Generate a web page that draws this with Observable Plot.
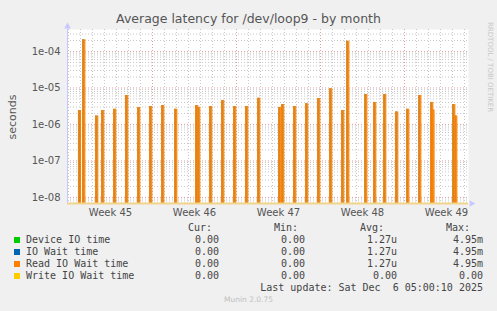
<!DOCTYPE html>
<html>
<head>
<meta charset="utf-8">
<script src="https://cdn.jsdelivr.net/npm/d3@7"></script>
<script src="https://cdn.jsdelivr.net/npm/@observablehq/plot@0.6"></script>
<style>
  html, body { margin: 0; padding: 0; background: #f0f0f0; }
  #wrap { position: relative; width: 497px; height: 311px; overflow: hidden; background: #f0f0f0; }
  #chart { position: absolute; left: 0; top: 0; }
  .t { position: absolute; white-space: pre; }
  .mono { font-family: "DejaVu Sans Mono", monospace; font-size: 10px; color: #444; line-height: 12px; }
</style>
</head>
<body>
<div id="wrap">
  <div id="chart"></div>
</div>
<script>
// ---- data ----
const spikeTimes = [
  "2025-11-03T20:00Z", "2025-11-04T04:30Z", "2025-11-05T06:30Z", "2025-11-05T18:30Z",
  "2025-11-06T18:30Z", "2025-11-07T18:30Z", "2025-11-08T18:30Z", "2025-11-09T18:30Z",
  "2025-11-10T18:30Z", "2025-11-11T20:30Z", "2025-11-13T14:30Z", "2025-11-13T18:30Z",
  "2025-11-14T18:30Z", "2025-11-15T18:30Z", "2025-11-16T18:30Z", "2025-11-17T18:30Z",
  "2025-11-18T18:30Z", "2025-11-20T12:30Z", "2025-11-20T18:30Z", "2025-11-21T18:30Z",
  "2025-11-22T18:30Z", "2025-11-23T18:30Z", "2025-11-24T18:30Z", "2025-11-25T18:30Z",
  "2025-11-26T04:30Z", "2025-11-27T16:30Z", "2025-11-28T10:30Z", "2025-11-29T06:30Z",
  "2025-11-30T06:30Z", "2025-12-01T04:30Z", "2025-12-02T04:30Z", "2025-12-03T04:30Z",
  "2025-12-03T07:00Z", "2025-12-05T00:30Z", "2025-12-05T04:30Z"
];
const readIOWait = [
  2.4e-6, 2.1e-4, 1.7e-6, 2.4e-6,
  2.6e-6, 6.2e-6, 2.9e-6, 3.1e-6,
  3.3e-6, 2.6e-6, 3.3e-6, 2.9e-6,
  3.1e-6, 4.5e-6, 3.1e-6, 3.1e-6,
  5.2e-6, 2.9e-6, 3.5e-6, 3.1e-6,
  3.7e-6, 5.1e-6, 9.5e-6, 2.4e-6,
  1.9e-4, 6.6e-6, 4.0e-6, 6.6e-6,
  2.2e-6, 2.6e-6, 6.2e-6, 4.0e-6,
  2.5e-6, 3.5e-6, 1.7e-6
];
const deviceIO = readIOWait.slice(); // identical series
const yTicks = [1e-8, 1e-7, 1e-6, 1e-5, 1e-4];
const yTickLabels = ["1e-08", "1e-07", "1e-06", "1e-05", "1e-04"];
const weekCenters = ["2025-11-06T12:00Z", "2025-11-13T12:00Z", "2025-11-20T12:00Z", "2025-11-27T12:00Z", "2025-12-04T12:00Z"];
const weekLabels = ["Week 45", "Week 46", "Week 47", "Week 48", "Week 49"];
const weekStarts = ["2025-11-10T00:00Z", "2025-11-17T00:00Z", "2025-11-24T00:00Z", "2025-12-01T00:00Z"];
const legendNames = ["Device IO time", "IO Wait time", "Read IO Wait time", "Write IO Wait time"];
const legendColors = ["#00cc00", "#0066b3", "#ff8000", "#ffcc00"];
const curVals = ["0.00", "0.00", "0.00", "0.00"];
const minVals = ["0.00", "0.00", "0.00", "0.00"];
const avgVals = ["1.27u", "1.27u", "1.27u", "0.00"];
const maxVals = ["4.95m", "4.95m", "4.95m", "0.00"];

// ---- scales ----
const xDomain = [new Date("2025-11-02T22:00Z"), new Date("2025-12-06T08:00Z")];
const yDomain = [6.8e-9, 4e-4];

const spikes = spikeTimes.map((t, i) => {
  const d = new Date(t);
  return { t1: d, t2: new Date(+d + 4 * 3600e3), v: readIOWait[i], dv: deviceIO[i] };
});

const days = d3.utcDay.range(xDomain[0], xDomain[1]).filter(d => d > xDomain[0]);
const weekSet = new Set(weekStarts.map(s => +new Date(s)));
const minorDays = days.filter(d => !weekSet.has(+d));
const minorY = [];
for (let e = -9; e <= -4; e++) for (let k = 2; k <= 9; k++) {
  const v = k * Math.pow(10, e);
  if (v > yDomain[0] && v < yDomain[1]) minorY.push(v);
}

const chart = Plot.plot({
  width: 497,
  height: 222,
  marginLeft: 67,
  marginRight: 29,
  marginTop: 29,
  marginBottom: 19,
  style: { background: "transparent", fontFamily: "DejaVu Sans", fontSize: "10px", color: "#555" },
  x: { type: "utc", domain: xDomain },
  y: { type: "log", domain: yDomain },
  marks: [
    Plot.frame({ fill: "white", stroke: "none" }),
    Plot.ruleY(minorY, { stroke: "#c8c8c8", strokeDasharray: "1,2" }),
    Plot.ruleX(minorDays, { stroke: "#c8c8c8", strokeDasharray: "1,2" }),
    Plot.ruleY(yTicks, { stroke: "#e2a0a0", strokeDasharray: "1,2" }),
    Plot.ruleX(weekStarts.map(s => new Date(s)), { stroke: "#e2a0a0", strokeDasharray: "1,2" }),
    Plot.rect(spikes, { x1: "t1", x2: "t2", y1: () => yDomain[0], y2: "dv", fill: "#9aa050", fillOpacity: 0.6 }),
    Plot.rect(spikes, { x1: "t1", x2: "t2", y1: () => yDomain[0], y2: "v", fill: "#b0843a", fillOpacity: 0.85 }),
    Plot.ruleX(spikes, { x: "t1", y1: () => yDomain[0], y2: "v", stroke: "#ff8000", strokeWidth: 1.2 }),
    Plot.ruleX(spikes, { x: "t2", y1: () => yDomain[0], y2: "v", stroke: "#ff8000", strokeWidth: 1.2 }),
    Plot.ruleY([yDomain[0]], { stroke: "#f2d48c", strokeWidth: 2 }),
    Plot.ruleX([xDomain[0]], { stroke: "#c8c8ff" }),
    Plot.dot({ length: 1 }, { frameAnchor: "top-left", symbol: "triangle", r: 2.5, fill: "#c8c8ff", stroke: "none", dy: -3 }),
    Plot.dot({ length: 1 }, { frameAnchor: "bottom-right", symbol: "triangle", r: 2.5, fill: "#c8c8ff", stroke: "none", rotate: 90, dx: 3 }),
    Plot.axisY({ ticks: yTicks, tickFormat: d => yTickLabels[yTicks.indexOf(d)], tickSize: 0, tickPadding: 7, label: null, fill: "#555" }),
    Plot.axisX({ ticks: weekCenters.map(s => new Date(s)), tickFormat: (d, i) => weekLabels[i], tickSize: 0, tickPadding: 5, label: null, fill: "#555" })
  ]
});
document.getElementById("chart").appendChild(chart);

// ---- texts ----
const wrap = document.getElementById("wrap");
function addText(txt, css, cls) {
  const el = document.createElement("div");
  el.className = "t" + (cls ? " " + cls : "");
  el.textContent = txt;
  el.style.cssText += css;
  wrap.appendChild(el);
  return el;
}
addText("Average latency for /dev/loop9 - by month",
  "left:0;width:497px;text-align:center;top:11px;font-family:'DejaVu Sans';font-size:12.5px;color:#555;");
addText("seconds",
  "left:12px;top:117px;font-family:'DejaVu Sans';font-size:11px;color:#555;transform:translate(-50%,-50%) rotate(-90deg);");
addText("RRDTOOL / TOBI OETIKER",
  "left:486px;top:22px;font-family:'DejaVu Sans';font-size:7px;color:#c8c8c8;writing-mode:vertical-rl;");

const colEnds = [219, 305, 397, 483];
const headEnds = [212, 298, 384, 470];
const heads = ["Cur:", "Min:", "Avg:", "Max:"];
heads.forEach((h, i) => addText(h, `right:${497 - headEnds[i]}px;top:222px;`, "mono"));
const cols = [curVals, minVals, avgVals, maxVals];
legendNames.forEach((n, r) => {
  const top = 234 + r * 12;
  const sq = document.createElement("div");
  sq.style.cssText = `position:absolute;left:14px;top:${top + 3}px;width:6px;height:6px;background:${legendColors[r]};`;
  wrap.appendChild(sq);
  addText(n, `left:26px;top:${top}px;`, "mono");
  cols.forEach((c, j) => addText(c[r], `right:${497 - colEnds[j]}px;top:${top}px;`, "mono"));
});
addText("Last update: Sat Dec  6 05:00:10 2025", `right:${497 - 483}px;top:282px;`, "mono");
addText("Munin 2.0.75", "left:0;width:497px;text-align:center;top:295px;font-family:'DejaVu Sans';font-size:7.5px;color:#c0c0c0;");
</script>
</body>
</html>
